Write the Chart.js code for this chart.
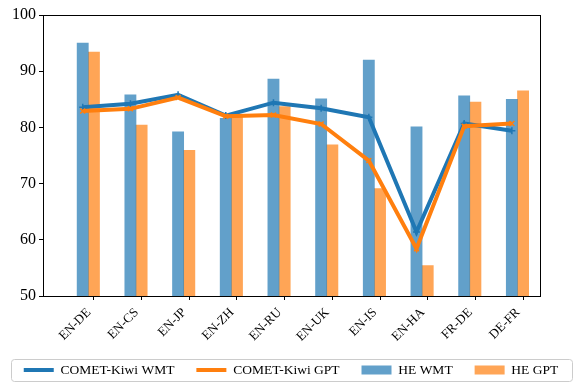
<!DOCTYPE html>
<html>
<head>
<meta charset="utf-8">
<script src="https://cdn.jsdelivr.net/npm/chart.js@4.4.0/dist/chart.umd.min.js"></script>
<style>
  html, body { margin: 0; padding: 0; background: #fff; }
</style>
</head>
<body>
<canvas id="chart" width="582" height="390"></canvas>
<script>
const pairs = ['EN-DE', 'EN-CS', 'EN-JP', 'EN-ZH', 'EN-RU', 'EN-UK', 'EN-IS', 'EN-HA', 'FR-DE', 'DE-FR'];
const cometWmt = [83.6, 84.2, 85.8, 82.1, 84.4, 83.4, 81.8, 61.4, 80.7, 79.4];
const cometGpt = [82.9, 83.3, 85.3, 82.0, 82.2, 80.6, 74.1, 58.4, 80.2, 80.7];
const heWmt = [95.0, 85.8, 79.2, 81.6, 88.6, 85.1, 92.0, 80.1, 85.6, 85.0];
const heGpt = [93.4, 80.4, 75.9, 82.0, 83.7, 76.9, 69.1, 55.4, 84.5, 86.5];
const yTicks = [50, 60, 70, 80, 90, 100];

const barShift = 0.235;   // GPT bars sit right of the WMT bars
const serif = 'Liberation Serif';
const sidePad = -12;      // lets the legend row use a bit more than the canvas width

const frame = {
  id: 'legendFrame',
  afterDraw(chart) {
    const ctx = chart.ctx;
    ctx.save();
    ctx.strokeStyle = '#cccccc';
    ctx.lineWidth = 1;
    ctx.beginPath();
    ctx.roundRect(11.5, 359.5, 561, 22, 3);
    ctx.stroke();
    ctx.restore();
  }
};

new Chart('chart', {
  type: 'bar',
  data: {
    datasets: [{
      type: 'line',
      label: 'COMET-Kiwi WMT',
      data: cometWmt.map((v, i) => ({x: i, y: v})),
      borderColor: '#1f77b4',
      backgroundColor: '#1f77b4',
      borderWidth: 4,
      tension: 0,
      pointStyle: 'cross',
      pointRadius: 3.5,
      pointBorderWidth: 1.5,
      pointBorderColor: '#1f77b4',
      order: 1
    }, {
      type: 'line',
      label: 'COMET-Kiwi GPT',
      data: cometGpt.map((v, i) => ({x: i, y: v})),
      borderColor: '#ff7f0e',
      backgroundColor: '#ff7f0e',
      borderWidth: 4,
      tension: 0,
      pointStyle: 'crossRot',
      pointRadius: 3.5,
      pointBorderWidth: 1.5,
      pointBorderColor: '#ff7f0e',
      order: 0
    }, {
      label: 'HE WMT',
      data: heWmt.map((v, i) => ({x: i, y: v})),
      backgroundColor: 'rgba(31,119,180,0.7)',
      grouped: false,
      barPercentage: 1,
      categoryPercentage: 1,
      maxBarThickness: 11.2,
      order: 2
    }, {
      label: 'HE GPT',
      data: heGpt.map((v, i) => ({x: i + barShift, y: v})),
      backgroundColor: 'rgba(255,127,14,0.7)',
      grouped: false,
      barPercentage: 1,
      categoryPercentage: 1,
      maxBarThickness: 11.2,
      order: 2
    }]
  },
  options: {
    responsive: false,
    animation: false,
    layout: { padding: { left: sidePad, right: sidePad, top: 0, bottom: 3.25 } },
    plugins: {
      tooltip: { enabled: false },
      legend: {
        position: 'bottom',
        align: 'center',
        labels: {
          font: { family: serif, size: 13.5 },
          color: '#000',
          usePointStyle: true,
          pointStyleWidth: 30,
          boxHeight: 9,
          padding: 22,
          sort: (a, b) => a.datasetIndex - b.datasetIndex,
          generateLabels(chart) {
            const items = Chart.defaults.plugins.legend.labels.generateLabels(chart);
            items.forEach(it => {
              const ds = chart.data.datasets[it.datasetIndex];
              if (ds.type === 'line') {
                it.pointStyle = 'line';
                it.lineWidth = 4;
                it.strokeStyle = ds.borderColor;
              } else {
                it.pointStyle = 'rect';
                it.lineWidth = 0;
              }
            });
            return items;
          }
        }
      }
    },
    scales: {
      x: {
        type: 'linear',
        position: 'bottom',
        min: -0.833,
        max: 9.59,
        offset: false,
        grid: { drawOnChartArea: false, tickLength: 4, color: '#000', offset: false },
        border: { color: '#000', width: 1 },
        afterBuildTicks: s => { s.ticks = pairs.map((p, i) => ({value: i + barShift})); },
        ticks: {
          autoSkip: false,
          minRotation: 45,
          maxRotation: 45,
          labelOffset: -5,
          padding: 5,
          color: '#000',
          font: { family: serif, size: 13 },
          callback: (v, i) => pairs[i]
        },
        afterFit: s => { s.height = 45.25; }
      },
      xTop: {
        type: 'linear',
        position: 'top',
        grid: { display: false },
        border: { color: '#000', width: 1 },
        ticks: { display: false },
        afterFit: s => { s.height = 15; }
      },
      y: {
        min: 50,
        max: 100,
        grid: { drawOnChartArea: false, tickLength: 4, color: '#000' },
        border: { color: '#000', width: 1 },
        afterBuildTicks: s => { s.ticks = yTicks.map(v => ({value: v})); },
        ticks: { color: '#000', padding: 3, font: { family: serif, size: 16 } },
        afterFit: s => { s.width = 43 - sidePad; }
      },
      yRight: {
        type: 'linear',
        position: 'right',
        grid: { display: false },
        border: { color: '#000', width: 1 },
        ticks: { display: false },
        afterFit: s => { s.width = 42 - sidePad; }
      }
    }
  },
  plugins: [frame]
});
</script>
</body>
</html>
